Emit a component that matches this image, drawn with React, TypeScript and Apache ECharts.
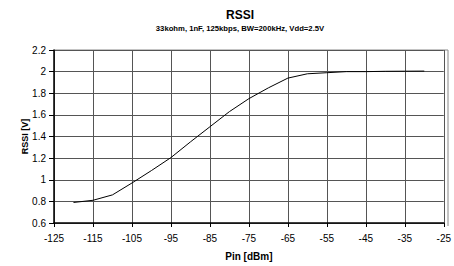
import React, { useEffect, useRef } from "react";
import * as echarts from "echarts";

const pinDbm = [-120, -115, -110, -105, -100, -95, -90, -85, -80, -75, -70, -65, -60, -55, -50, -45, -40, -35, -30];
const rssiV = [0.79, 0.81, 0.86, 0.97, 1.085, 1.205, 1.35, 1.49, 1.63, 1.75, 1.85, 1.94, 1.98, 1.99, 2.0, 2.0, 2.003, 2.004, 2.005];
const titleText = "RSSI";
const subtitleText = "33kohm, 1nF, 125kbps, BW=200kHz, Vdd=2.5V";
const xName = "Pin [dBm]";
const yName = "RSSI [V]";

export default function App() {
  const ref = useRef<HTMLDivElement>(null);
  useEffect(() => {
    if (!ref.current) return;
    const chart = echarts.init(ref.current, null, { renderer: "svg" });
    const font = "'Liberation Sans', Arial, sans-serif";
    chart.setOption({
      animation: false,
      backgroundColor: "#ffffff",
      title: {
        text: titleText,
        subtext: subtitleText,
        left: 235,
        textAlign: "center",
        top: 4,
        itemGap: 3,
        textStyle: { fontFamily: font, fontSize: 12, fontWeight: "bold", color: "#000" },
        subtextStyle: { fontFamily: font, fontSize: 7.7, fontWeight: "bold", color: "#000" },
      },
      grid: { left: 54, right: 6, top: 50, bottom: 40 },
      xAxis: {
        type: "value",
        min: -125,
        max: -25,
        interval: 10,
        name: xName,
        nameLocation: "middle",
        nameGap: 28,
        nameMoveOverlap: false,
        nameTextStyle: { fontFamily: font, fontSize: 10, fontWeight: "bold", color: "#000" },
        axisLine: { show: true, lineStyle: { color: "#000", width: 1.5 } },
        axisTick: { show: true, length: 4, lineStyle: { color: "#000" } },
        axisLabel: { fontFamily: font, fontSize: 10, color: "#000", margin: 10 },
        splitLine: { show: true, lineStyle: { color: "#555", width: 1 } },
      },
      yAxis: {
        type: "value",
        min: 0.6,
        max: 2.2,
        interval: 0.2,
        name: yName,
        nameLocation: "middle",
        nameGap: 25,
        nameMoveOverlap: false,
        nameTextStyle: { fontFamily: font, fontSize: 9, fontWeight: "bold", color: "#000" },
        axisLine: { show: true, lineStyle: { color: "#000", width: 1.5 } },
        axisTick: { show: true, length: 5, lineStyle: { color: "#000" } },
        axisLabel: {
          fontFamily: font,
          fontSize: 10,
          color: "#000",
          margin: 8,
          formatter: (v: number) => String(Math.round(v * 10) / 10),
        },
        splitLine: { show: true, lineStyle: { color: "#555", width: 1 } },
      },
      graphic: [
        {
          type: "line",
          shape: { x1: 54, y1: 50, x2: 448, y2: 50 },
          style: { stroke: "#888", lineWidth: 1 },
        },
        {
          type: "line",
          shape: { x1: 448, y1: 50, x2: 448, y2: 226 },
          style: { stroke: "#888", lineWidth: 1 },
        },
      ],
      series: [
        {
          type: "line",
          data: pinDbm.map((x, i) => [x, rssiV[i]]),
          showSymbol: false,
          lineStyle: { color: "#000", width: 1 },
        },
      ],
    });
    return () => chart.dispose();
  }, []);
  return <div ref={ref} style={{ width: 454, height: 266, position: "fixed", left: 0, top: 0 }} />;
}
